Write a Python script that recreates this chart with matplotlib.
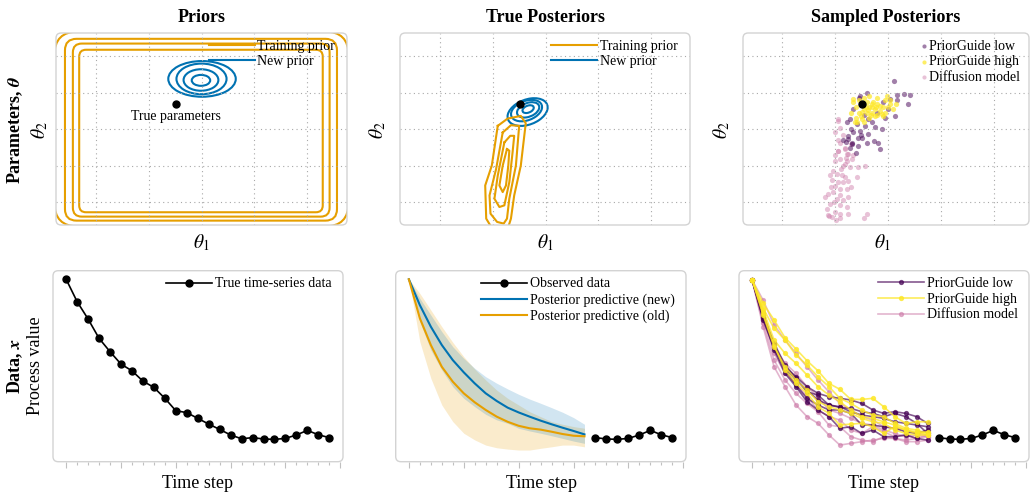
import numpy as np
import matplotlib
matplotlib.use("Agg")
import matplotlib.pyplot as plt
from matplotlib.patches import FancyBboxPatch, Ellipse
from matplotlib.lines import Line2D

plt.rcParams['font.family'] = 'serif'
plt.rcParams['font.serif'] = ['Liberation Serif', 'DejaVu Serif']
plt.rcParams['mathtext.fontset'] = 'stix'

BLUE = '#0072B2'
ORANGE = '#E69F00'
PURPLE = '#440154'
YELLOW = '#FDE725'
PINK = '#CC79A7'

# ---------------- data: parameter space ----------------
true_theta = (1.52, 2.70)

# training prior contours (rounded boxes): x0, x1, y0, y1
prior_x0 = [-0.32, -0.44, -0.59, -0.79]
prior_x1 = [4.30, 4.43, 4.57, 4.79]
prior_y0 = [-0.28, -0.40, -0.51, -0.67]
prior_y1 = [4.18, 4.35, 4.48, 4.68]

# new prior contours (ellipses)
newprior_cx = [2.01, 2.00, 1.99, 1.99]
newprior_cy = [3.38, 3.38, 3.35, 3.34]
newprior_w = [1.28, 0.95, 0.66, 0.35]
newprior_h = [0.98, 0.84, 0.59, 0.30]

# posterior under new prior (tilted ellipses)
newpost_cx = [1.66, 1.64, 1.67, 1.67]
newpost_cy = [2.47, 2.51, 2.53, 2.55]
newpost_w = [0.88, 0.68, 0.49, 0.25]
newpost_h = [0.62, 0.48, 0.34, 0.17]

# posterior under training prior (contour outlines)
oldpost_1 = [(1.094, 2.091), (1.281, 2.291), (1.531, 2.364), (1.625, 2.164), (1.531, 1.0),
             (1.406, 0.182), (1.344, -0.455), (1.294, -0.682), (0.969, -0.682), (0.875, -0.455),
             (0.856, 0.455), (0.981, 1.0)]
oldpost_2 = [(1.188, 1.909), (1.344, 2.109), (1.5, 2.091), (1.438, 1.0), (1.313, 0.091),
             (1.269, -0.455), (1.206, -0.591), (1.081, -0.545), (0.956, -0.318), (0.938, 0.182),
             (1.063, 0.909)]
oldpost_3 = [(1.219, 1.636), (1.331, 1.818), (1.406, 1.818), (1.375, 1.364), (1.313, 0.545),
             (1.219, -0.091), (1.125, -0.136), (1.031, 0.091), (1.094, 0.727)]
oldpost_4 = [(1.269, 1.455), (1.313, 1.409), (1.294, 1.0), (1.25, 0.455), (1.188, 0.273),
             (1.125, 0.455), (1.188, 1.0)]

# sampled posteriors
diffusion_pts = [(1.06, 1.41), (1.19, 1.45), (1.25, 1.32), (1.09, 1.18), (1.22, 1.14), (1.32, 1.18),
                 (1.00, 1.14), (1.16, 1.00), (1.28, 0.95), (1.44, 0.95), (1.57, 0.98), (0.97, 0.86),
                 (1.03, 0.77), (0.91, 0.73), (1.13, 0.73), (1.19, 0.68), (1.06, 0.55), (1.00, 0.45),
                 (1.16, 0.55), (1.25, 0.59), (1.41, 0.68), (1.09, 0.36), (1.22, 0.36), (0.97, 0.27),
                 (0.87, 0.23), (0.81, 0.14), (1.03, 0.09), (1.16, 0.05), (1.25, 0.14), (0.91, -0.05),
                 (1.09, -0.09), (1.22, -0.14), (1.00, -0.27), (0.87, -0.36), (0.94, -0.41), (1.09, -0.32),
                 (1.25, -0.32), (1.54, -0.45), (1.60, -0.32), (1.06, 2.23), (1.00, 1.91), (1.09, 1.63),
                 (1.19, 1.49), (1.06, 1.40), (1.22, 1.31), (1.05, 2.29), (1.10, 2.03), (0.88, -0.39),
                 (1.10, -0.44), (0.95, 0.60), (1.12, 0.90), (1.20, 1.20), (1.05, 1.70), (1.15, 1.85),
                 (1.30, 1.60), (0.98, 0.00), (1.10, 0.20), (1.30, 0.40), (0.85, -0.20), (1.02, -0.50),
                 (0.92, 0.40), (1.18, 1.05), (1.35, 1.30), (1.00, 1.30)]
low_pts = [(2.11, 3.31), (1.60, 3.00), (1.47, 2.91), (2.17, 2.93), (2.30, 2.97), (2.42, 2.93),
           (2.17, 2.81), (2.04, 2.83), (2.39, 2.69), (2.14, 2.37), (1.95, 2.32), (1.28, 2.28),
           (1.22, 2.19), (1.41, 2.14), (1.57, 2.09), (1.70, 2.19), (1.76, 2.05), (1.89, 2.00),
           (1.47, 1.95), (1.35, 1.91), (1.25, 1.81), (1.44, 1.77), (1.63, 1.86), (1.32, 1.63),
           (1.44, 1.54), (1.60, 1.63), (1.82, 1.63), (1.85, 1.46), (1.28, 1.49), (1.45, 2.85),
           (1.90, 2.75), (2.00, 2.55), (1.35, 2.55), (1.80, 2.45), (1.55, 2.40), (1.62, 2.28),
           (1.30, 2.00), (1.50, 1.85), (1.20, 1.65), (1.40, 1.35), (1.15, 1.70), (1.25, 1.73),
           (1.32, 1.59), (1.51, 1.77), (1.73, 1.68)]
high_pts = [(1.45, 2.80), (1.55, 2.85), (1.65, 2.90), (1.80, 2.85), (1.95, 2.80), (2.05, 2.70),
            (1.40, 2.60), (1.50, 2.70), (1.60, 2.75), (1.70, 2.70), (1.80, 2.70), (1.90, 2.60),
            (2.00, 2.60), (1.45, 2.45), (1.55, 2.55), (1.65, 2.60), (1.75, 2.55), (1.85, 2.50),
            (1.95, 2.45), (1.50, 2.35), (1.60, 2.45), (1.70, 2.45), (1.80, 2.40), (1.65, 2.30),
            (1.75, 2.35), (1.40, 2.30), (1.55, 2.20), (1.90, 2.35), (2.10, 2.55), (1.35, 2.75),
            (1.70, 2.62), (1.62, 2.52), (1.78, 2.60), (1.68, 2.40), (1.58, 2.62), (1.85, 2.65),
            (1.72, 2.75), (1.52, 2.48), (1.42, 2.20), (1.30, 2.45), (2.15, 2.70), (1.98, 2.90),
            (1.35, 2.83), (2.04, 2.79), (1.38, 2.19), (1.89, 2.42), (1.51, 2.28)]

# ---------------- data: time series ----------------
time_steps = np.arange(25)
true_series = [9.55, 8.38, 7.47, 6.46, 5.76, 5.11, 4.76, 4.22, 3.89, 3.32, 2.67, 2.57, 2.27,
               1.97, 1.69, 1.40, 1.20, 1.26, 1.19, 1.17, 1.22, 1.40, 1.64, 1.41, 1.26]
obs_start = 17
pred_steps = np.arange(17)
pred_new = [9.55, 8.20, 7.07, 6.11, 5.32, 4.68, 4.10, 3.58, 3.18, 2.83, 2.58, 2.36, 2.15, 1.96, 1.78, 1.61, 1.43]
pred_new_hi = [9.57, 8.55, 7.68, 6.81, 6.02, 5.41, 4.89, 4.45, 4.11, 3.81, 3.53, 3.28, 3.06, 2.83, 2.59, 2.31, 1.96]
pred_new_lo = [9.57, 7.33, 5.85, 4.80, 3.93, 3.32, 2.88, 2.48, 2.19, 2.01, 1.75, 1.61, 1.49, 1.36, 1.22, 1.08, 0.96]
pred_old = [9.55, 7.51, 6.11, 4.97, 4.19, 3.58, 3.11, 2.71, 2.36, 2.09, 1.88, 1.75, 1.68, 1.57, 1.45, 1.36, 1.33]
pred_old_hi = [9.57, 8.81, 7.94, 7.07, 6.25, 5.50, 4.85, 4.28, 3.75, 3.32, 2.97, 2.62, 2.36, 2.10, 1.96, 1.84, 1.75]
pred_old_lo = [9.57, 6.28, 4.37, 2.97, 2.10, 1.49, 1.14, 0.87, 0.73, 0.66, 0.61, 0.61, 0.70, 0.78, 0.87, 0.87, 0.78]

traj_low = [
    [9.51, 7.77, 6.02, 4.97, 4.45, 3.93, 3.58, 3.40, 3.32, 3.23, 3.05, 2.71, 2.53, 2.62, 2.53, 2.36, 2.01],
    [9.51, 7.50, 6.11, 4.89, 4.28, 3.75, 3.23, 2.97, 2.88, 2.62, 2.44, 2.36, 2.27, 2.09, 2.01, 1.92, 1.83],
    [9.51, 7.42, 5.93, 4.80, 4.01, 3.32, 2.97, 2.71, 2.71, 2.53, 1.92, 1.92, 1.83, 1.75, 1.57, 1.48, 1.66],
    [9.51, 7.59, 5.85, 4.62, 3.93, 3.14, 2.71, 2.36, 1.75, 1.83, 1.48, 1.66, 1.31, 1.31, 1.40, 1.22, 1.13],
    [9.51, 7.68, 6.20, 5.06, 4.36, 3.66, 3.49, 2.97, 2.84, 2.79, 2.62, 2.53, 2.36, 2.53, 2.36, 2.01, 1.48],
]
traj_high = [
    [9.51, 8.29, 7.42, 6.49, 5.90, 5.29, 4.76, 4.10, 3.79, 3.26, 3.26, 3.32, 2.88, 2.36, 2.01, 2.09, 2.09],
    [9.51, 8.03, 6.98, 6.37, 5.58, 5.06, 4.45, 3.93, 3.32, 3.05, 2.71, 2.44, 2.36, 2.01, 1.75, 1.66, 1.48],
    [9.51, 7.94, 6.37, 5.67, 5.15, 4.54, 3.93, 3.49, 3.14, 2.71, 2.36, 2.27, 2.09, 1.92, 1.66, 1.57, 1.40],
    [9.51, 7.77, 6.11, 4.80, 4.10, 3.58, 2.88, 2.53, 1.92, 1.97, 2.01, 1.83, 1.48, 1.83, 1.66, 1.48, 1.57],
    [9.51, 7.68, 6.02, 4.97, 4.28, 3.75, 3.14, 2.88, 2.71, 2.53, 2.27, 2.09, 2.01, 1.66, 1.48, 1.40, 1.40],
]
traj_diff = [
    [9.51, 7.07, 4.97, 3.93, 2.97, 2.36, 2.01, 1.40, 0.87, 0.96, 1.05, 1.13, 1.22, 1.22, 1.13, 1.22, 1.31],
    [9.51, 7.24, 5.32, 4.28, 3.58, 3.05, 2.62, 1.92, 1.83, 1.31, 1.13, 1.05, 1.31, 1.22, 1.05, 1.05, 1.13],
    [9.51, 7.42, 5.67, 4.62, 4.10, 3.40, 2.71, 2.36, 2.18, 1.66, 1.48, 1.83, 1.57, 1.31, 1.40, 1.22, 1.40],
    [9.51, 8.46, 7.16, 6.37, 5.67, 4.97, 4.28, 3.66, 3.05, 2.71, 2.36, 2.18, 1.83, 1.75, 1.66, 1.48, 1.40],
    [9.51, 7.77, 6.02, 5.15, 4.62, 3.93, 3.40, 2.71, 2.53, 2.27, 2.01, 1.92, 1.66, 1.48, 1.31, 1.40, 1.31],
]

# ---------------- figure ----------------
W, H = 1031, 495
fig = plt.figure(figsize=(W / 100, H / 100), dpi=100)


def px_axes(l, r, t, b):
    return fig.add_axes([l / W, 1 - b / H, (r - l) / W, (b - t) / H])


def frame(ax):
    for s in ax.spines.values():
        s.set_visible(False)
    bb = ax.get_position()
    asp = (bb.width * W) / (bb.height * H)
    ax.add_patch(FancyBboxPatch((0, 0), 1, 1, boxstyle="round,pad=0,rounding_size=0.018",
                                mutation_aspect=asp, transform=ax.transAxes, fill=False,
                                ec='#d3d3d3', lw=1.0, clip_on=False, zorder=10))


def param_axes(ax, xr):
    ax.set_xlim(-0.76, xr)
    ax.set_ylim(-0.63, 4.64)
    ax.set_xticks(range(5))
    ax.set_yticks(range(5))
    ax.grid(True, ls=(0, (1, 3)), color='#a8a8a8', lw=0.8)
    ax.tick_params(length=0, labelbottom=False, labelleft=False)
    frame(ax)


def time_axes(ax):
    ax.set_xlim(-1.2, 25.25)
    ax.set_ylim(0, 10)
    ax.set_xticks(range(0, 26, 5))
    ax.set_xticks(range(26), minor=True)
    ax.set_yticks([])
    ax.tick_params(which='both', direction='out', colors='#c0c0c0', labelbottom=False, width=0.8)
    ax.tick_params(which='major', length=4)
    ax.tick_params(which='minor', length=2.5)
    frame(ax)


leg_kw = dict(frameon=False, fontsize=10, borderpad=0, borderaxespad=0, labelspacing=0.2,
              handlelength=3.3, handletextpad=0.2, loc='upper right')

# ---- Priors ----
ax1 = px_axes(56, 347, 33, 225)
param_axes(ax1, 4.76)
radii = [0.13, 0.17, 0.22, 0.45]
for x0, x1, y0, y1, r in zip(prior_x0, prior_x1, prior_y0, prior_y1, radii):
    ax1.add_patch(FancyBboxPatch((x0, y0), x1 - x0, y1 - y0,
                                 boxstyle=f"round,pad=0,rounding_size={r}", mutation_aspect=1.44,
                                 fill=False, ec=ORANGE, lw=1.5))
for cx, cy, w, h in zip(newprior_cx, newprior_cy, newprior_w, newprior_h):
    ax1.add_patch(Ellipse((cx, cy), w, h, fill=False, ec=BLUE, lw=1.5))
ax1.plot(*true_theta, 'o', color='black', ms=5, zorder=5)
ax1.text(true_theta[0], 2.36, 'True parameters', ha='center', va='center', fontsize=10)
ax1.legend([Line2D([], [], color=ORANGE, lw=1.5), Line2D([], [], color=BLUE, lw=1.5)],
           ['Training prior', 'New prior'], bbox_to_anchor=(0.959, 0.966), **leg_kw)

# ---- True posteriors ----
ax2 = px_axes(400, 690, 33, 225)
param_axes(ax2, 4.74)
for poly in [oldpost_1, oldpost_2, oldpost_3, oldpost_4]:
    pts = np.array(poly + [poly[0]])
    ax2.plot(pts[:, 0], pts[:, 1], color=ORANGE, lw=1.5)
for cx, cy, w, h in zip(newpost_cx, newpost_cy, newpost_w, newpost_h):
    ax2.add_patch(Ellipse((cx, cy), w, h, angle=45, fill=False, ec=BLUE, lw=1.5))
ax2.plot(*true_theta, 'o', color='black', ms=5, zorder=5)
ax2.legend([Line2D([], [], color=ORANGE, lw=1.5), Line2D([], [], color=BLUE, lw=1.5)],
           ['Training prior', 'New prior'], bbox_to_anchor=(0.958, 0.966), **leg_kw)

# ---- Sampled posteriors ----
ax3 = px_axes(743, 1029, 33, 225)
param_axes(ax3, 4.67)
ax3.set_xlim(-0.74, 4.67)
d = np.array(diffusion_pts)
lo = np.array(low_pts)
hi = np.array(high_pts)
s_d = ax3.scatter(d[:, 0], d[:, 1], s=14, color=PINK, alpha=0.45, lw=0, label='Diffusion model')
s_l = ax3.scatter(lo[:, 0], lo[:, 1], s=14, color=PURPLE, alpha=0.5, lw=0, label='PriorGuide low')
s_h = ax3.scatter(hi[:, 0], hi[:, 1], s=14, color=YELLOW, alpha=0.7, lw=0, label='PriorGuide high')
ax3.plot(*true_theta, 'o', color='black', ms=5, zorder=5)
kw3 = dict(leg_kw)
kw3.update(handlelength=0.5, handletextpad=0.1)
ax3.legend([s_l, s_h, s_d], ['PriorGuide low', 'PriorGuide high', 'Diffusion model'],
           bbox_to_anchor=(0.969, 0.966), scatterpoints=1, markerscale=0.8, **kw3)

# ---- True data ----
ax4 = px_axes(53, 343, 270.7, 461.7)
time_axes(ax4)
ax4.plot(time_steps, true_series, '-o', color='black', ms=5, lw=1.2, label='True time-series data')
ax4.legend(bbox_to_anchor=(0.961, 0.965), **leg_kw)

# ---- Posterior predictive ----
ax5 = px_axes(395.7, 686, 270.7, 461.7)
time_axes(ax5)
ax5.fill_between(pred_steps, pred_old_lo, pred_old_hi, color=ORANGE, alpha=0.2, lw=0)
ax5.fill_between(pred_steps, pred_new_lo, pred_new_hi, color=BLUE, alpha=0.18, lw=0)
ax5.plot(time_steps[obs_start:], true_series[obs_start:], '-o', color='black', ms=5, lw=1.2,
         label='Observed data')
ax5.plot(pred_steps, pred_new, color=BLUE, lw=1.5, label='Posterior predictive (new)')
ax5.plot(pred_steps, pred_old, color=ORANGE, lw=1.5, label='Posterior predictive (old)')
ax5.legend(bbox_to_anchor=(0.962, 0.965), **leg_kw)

# ---- Sampled trajectories ----
ax6 = px_axes(739, 1029, 270.7, 461.7)
time_axes(ax6)
for tr in traj_diff:
    ax6.plot(pred_steps, tr, '-o', color=PINK, alpha=0.55, ms=2.8, lw=1.2)
for tr in traj_low:
    ax6.plot(pred_steps, tr, '-o', color=PURPLE, alpha=0.65, ms=2.8, lw=1.2)
for tr in traj_high:
    ax6.plot(pred_steps, tr, '-o', color=YELLOW, alpha=0.75, ms=2.8, lw=1.2)
ax6.plot(time_steps[obs_start:], true_series[obs_start:], '-o', color='black', ms=5, lw=1.2)
h6 = [Line2D([], [], color=c, alpha=a, marker='o', ms=2.8, lw=1.2)
      for c, a in [(PURPLE, 0.65), (YELLOW, 0.75), (PINK, 0.55)]]
ax6.legend(h6, ['PriorGuide low', 'PriorGuide high', 'Diffusion model'],
           bbox_to_anchor=(0.962, 0.968), **leg_kw)

# ---- titles and labels ----
def ftext(x, y, s, **kw):
    fig.text(x / W, 1 - y / H, s, ha='center', va='center', **kw)


ftext(201.5, 17, 'Priors', fontsize=13, fontweight='bold')
ftext(545, 17, 'True Posteriors', fontsize=13, fontweight='bold')
ftext(886, 17, 'Sampled Posteriors', fontsize=13, fontweight='bold')
for x in [201.5, 545, 882]:
    ftext(x, 243, r'$\theta_1$', fontsize=14)
for x in [40, 378, 722]:
    ftext(x, 130, r'$\theta_2$', fontsize=14, rotation=90)
for x in [198, 541, 884]:
    ftext(x, 484, 'Time step', fontsize=13)
ftext(15, 130, r'Parameters, $\boldsymbol{\theta}$', fontsize=13, fontweight='bold', rotation=90)
ftext(15, 366, r'Data, $\boldsymbol{x}$', fontsize=13, fontweight='bold', rotation=90)
ftext(36, 366, 'Process value', fontsize=13, rotation=90)

fig.savefig('out.png', dpi=100)
